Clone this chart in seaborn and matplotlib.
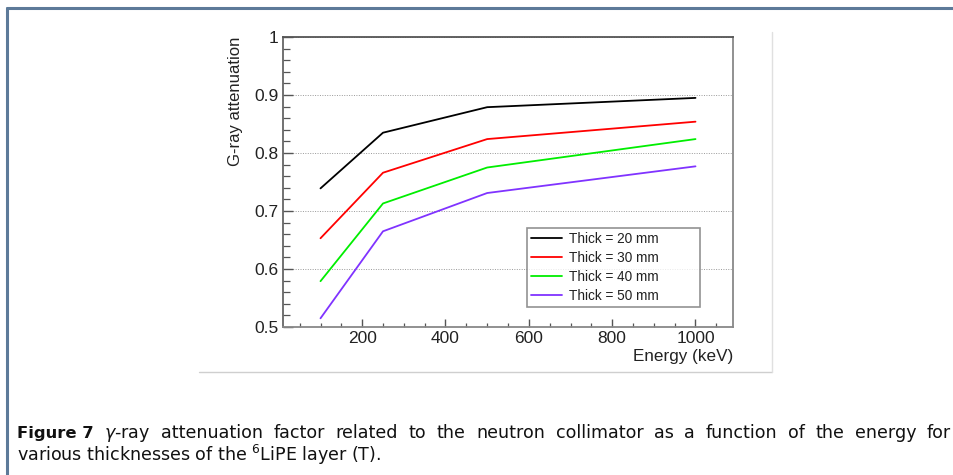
import matplotlib
matplotlib.use("Agg")
import matplotlib.pyplot as plt
from matplotlib.lines import Line2D
from matplotlib.ticker import MultipleLocator
import numpy as np
import pandas as pd
import seaborn as sns

# Photon energies (keV) and attenuation factors per collimator thickness
energy_kev = [100, 250, 500, 1000]
att_20mm = [0.739, 0.835, 0.879, 0.895]
att_30mm = [0.653, 0.766, 0.824, 0.854]
att_40mm = [0.579, 0.713, 0.775, 0.824]
att_50mm = [0.515, 0.665, 0.731, 0.777]
series_labels = ["Thick = 20 mm", "Thick = 30 mm", "Thick = 40 mm", "Thick = 50 mm"]
series_colors = ["#000000", "#ff0000", "#00ee00", "#8033ff"]

df = pd.DataFrame({
    "Energy": energy_kev * 4,
    "Attenuation": att_20mm + att_30mm + att_40mm + att_50mm,
    "Series": np.repeat(series_labels, len(energy_kev)),
})

sns.set_style("white")
plt.rcParams["font.family"] = ["Liberation Sans", "DejaVu Sans"]

W, H = 954, 475
fig = plt.figure(figsize=(W / 100, H / 100), dpi=100)
ax = fig.add_axes([283 / W, 1 - 327 / H, 450 / W, 290 / H])

sns.lineplot(data=df, x="Energy", y="Attenuation", hue="Series",
             hue_order=series_labels, palette=series_colors,
             linewidth=1.3, ax=ax, legend=False)

ax.set_xlim(10, 1090)
ax.set_ylim(0.5, 1.0)
ax.set_xticks([200, 400, 600, 800, 1000])
ax.set_xticklabels(["200", "400", "600", "800", "1000"])
ax.set_yticks([0.5, 0.6, 0.7, 0.8, 0.9, 1.0])
ax.set_yticklabels(["0.5", "0.6", "0.7", "0.8", "0.9", "1"])
ax.xaxis.set_minor_locator(MultipleLocator(50))
ax.yaxis.set_minor_locator(MultipleLocator(0.02))

ax.tick_params(axis="both", which="both", direction="in", colors="#555555",
               labelcolor="#222222", labelsize=12.5,
               bottom=True, left=True, top=False, right=False)
ax.tick_params(axis="y", which="major", length=7, width=1.0, pad=3)
ax.tick_params(axis="y", which="minor", length=5, width=0.9)
ax.tick_params(axis="x", which="major", length=6, width=1.0, pad=3)
ax.tick_params(axis="x", which="minor", length=3, width=0.9)

ax.grid(axis="y", which="major", linestyle=(0, (1, 1.5)), color="#999999",
        linewidth=0.7)
ax.grid(axis="x", visible=False)
for side, sp in ax.spines.items():
    sp.set_visible(True)
    sp.set_color("#888888")
    sp.set_linewidth(1.3)
ax.spines["top"].set_color("#555555")
ax.spines["left"].set_color("#666666")

ax.set_xlabel("Energy (keV)", fontsize=12.3, color="#222222",
              loc="right", labelpad=2)
ax.set_ylabel("G-ray attenuation", fontsize=12, color="#222222",
              loc="top", labelpad=8)

# Legend box spanning a fixed region of the axes
leg_w, leg_h = 173 / 450, 77 / 290
leg_x, leg_top = (527 - 283) / 450, (327 - 228) / 290
handles = [Line2D([0], [0], color=c, lw=1.3) for c in series_colors]
leg = ax.legend(handles, series_labels, loc="upper left", mode="expand",
                bbox_to_anchor=(leg_x, leg_top - leg_h, leg_w, leg_h),
                fontsize=9.8, frameon=True, fancybox=False, handlelength=2.3,
                handletextpad=0.5, labelspacing=0.36, borderpad=0.3,
                borderaxespad=0)
leg.get_frame().set_edgecolor("#777777")
leg.get_frame().set_linewidth(1.2)
for t in leg.get_texts():
    t.set_color("#222222")

# Page frame lines around the figure block
fig.add_artist(Line2D([7 / W, 1.0], [1 - 8 / H] * 2, color="#5d7a99",
                      lw=2.2, transform=fig.transFigure))
fig.add_artist(Line2D([7 / W] * 2, [0, 1 - 8 / H], color="#5d7a99",
                      lw=2.2, transform=fig.transFigure))
# Light border of the embedded plot image
fig.add_artist(Line2D([199 / W, 772 / W], [1 - 372 / H] * 2,
                      color="#cfcfcf", lw=1.0, transform=fig.transFigure))
fig.add_artist(Line2D([772 / W] * 2, [1 - 372 / H, 1 - 32 / H],
                      color="#e0e0e0", lw=1.0, transform=fig.transFigure))

# Caption: bold figure number, then a justified first line
cap_size = 12.6
cap_color = "#111111"
fig.text(17 / W, 1 - 438 / H, "Figure 7", fontsize=11.8, fontweight="bold",
         family="DejaVu Sans", va="baseline", color=cap_color)

first_line = (r"$\gamma$-ray attenuation factor related to the neutron "
              r"collimator as a function of the energy for")
words = first_line.split(" ")
renderer = fig.canvas.get_renderer()
word_artists = []
for w in words:
    t = fig.text(0, 1 - 438 / H, w, fontsize=cap_size, family="DejaVu Sans",
                 va="baseline", color=cap_color)
    word_artists.append(t)
widths = [t.get_window_extent(renderer).width for t in word_artists]
x_start, x_end = 104, 951
gap = (x_end - x_start - sum(widths)) / (len(words) - 1)
x = x_start
for t, wd in zip(word_artists, widths):
    t.set_x(x / W)
    x += wd + gap

fig.text(17 / W, 1 - 461 / H,
         r"various thicknesses of the $^{6}$LiPE layer (T).",
         fontsize=cap_size, family="DejaVu Sans", va="baseline",
         color=cap_color)

fig.savefig("out.png", dpi=100, facecolor="white")
